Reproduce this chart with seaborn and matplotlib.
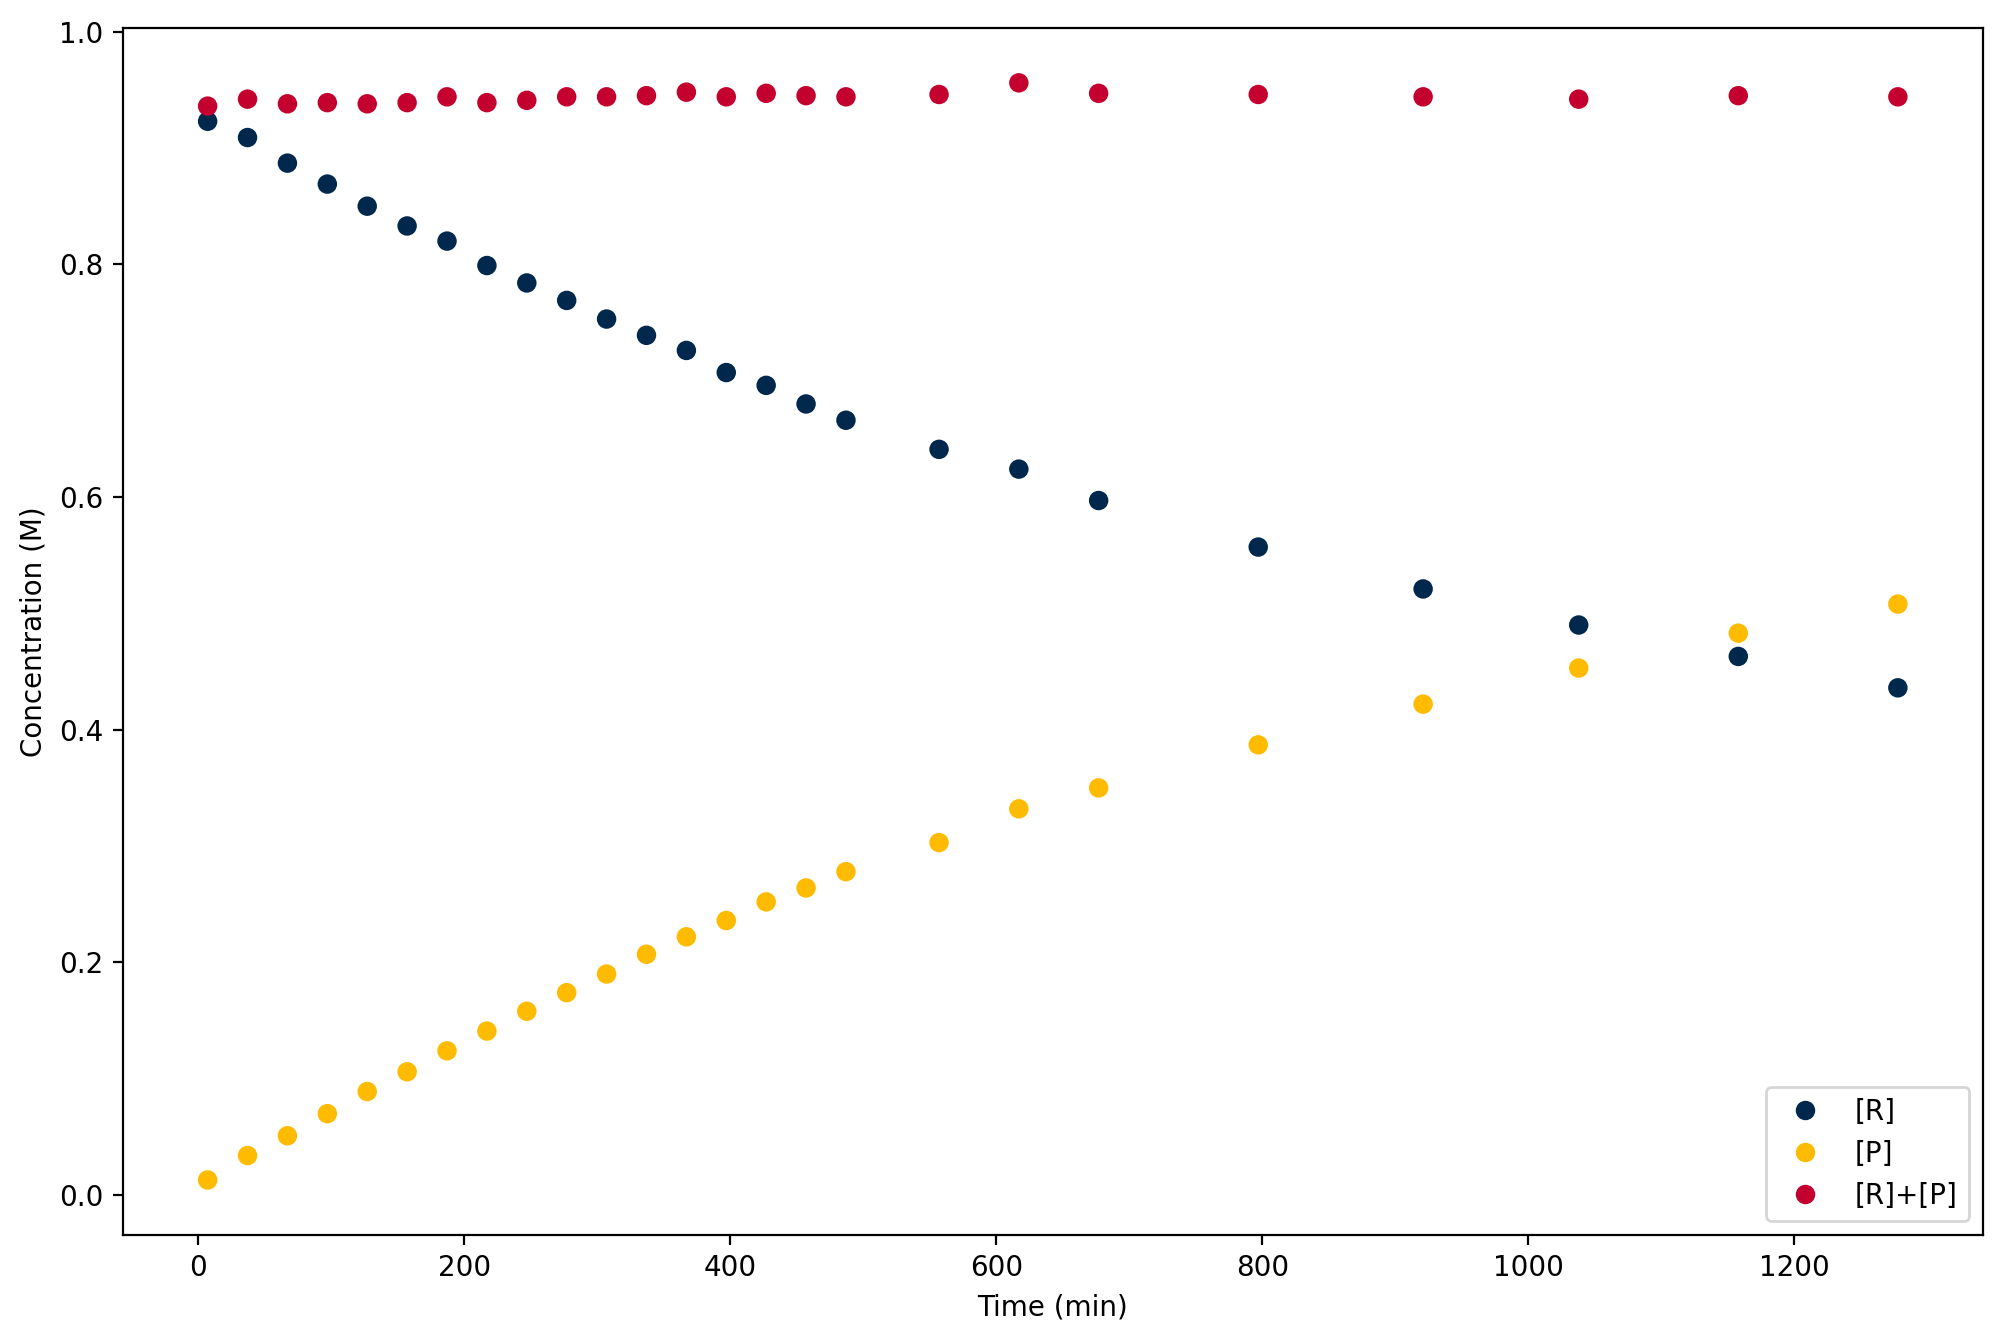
import matplotlib
matplotlib.use("Agg")
import matplotlib.pyplot as plt
import seaborn as sns
import pandas as pd

time_min = [7, 37, 67, 97, 127, 157, 187, 217, 247, 277, 307, 337, 367, 397, 427,
            457, 487, 557, 617, 677, 797, 921, 1038, 1158, 1278]
conc_R = [0.923, 0.909, 0.887, 0.869, 0.850, 0.833, 0.820, 0.799, 0.784, 0.769,
          0.753, 0.739, 0.726, 0.707, 0.696, 0.680, 0.666, 0.641, 0.624, 0.597,
          0.557, 0.521, 0.490, 0.463, 0.436]
conc_P = [0.013, 0.034, 0.051, 0.070, 0.089, 0.106, 0.124, 0.141, 0.158, 0.174,
          0.190, 0.207, 0.222, 0.236, 0.252, 0.264, 0.278, 0.303, 0.332, 0.350,
          0.387, 0.422, 0.453, 0.483, 0.508]
conc_sum = [0.936, 0.942, 0.938, 0.939, 0.938, 0.939, 0.944, 0.939, 0.941, 0.944,
            0.944, 0.945, 0.948, 0.944, 0.947, 0.945, 0.944, 0.946, 0.956, 0.947,
            0.946, 0.944, 0.942, 0.945, 0.944]
series_labels = ["[R]", "[P]", "[R]+[P]"]
series_colors = ["#00274C", "#FFBB00", "#C4002F"]

frames = []
for lab, vals in zip(series_labels, [conc_R, conc_P, conc_sum]):
    frames.append(pd.DataFrame({"Time (min)": time_min, "Concentration (M)": vals, "series": lab}))
df = pd.concat(frames, ignore_index=True)

fig, ax = plt.subplots(figsize=(10.01, 6.71), dpi=200)
fig.subplots_adjust(left=0.0612, right=0.9905, top=0.9790, bottom=0.0800)

sns.scatterplot(data=df, x="Time (min)", y="Concentration (M)", hue="series",
                hue_order=series_labels, palette=dict(zip(series_labels, series_colors)),
                s=36, edgecolor="face", linewidth=1.0, ax=ax)

ax.set_xlim(-57, 1342)
ax.set_ylim(-0.034, 1.003)
ax.set_xticks([0, 200, 400, 600, 800, 1000, 1200])
ax.set_yticks([0.0, 0.2, 0.4, 0.6, 0.8, 1.0])
ax.set_xlabel("Time (min)")
ax.set_ylabel("Concentration (M)")
leg = ax.legend(loc="lower right", title=None)

fig.savefig("out.png", dpi=200)
